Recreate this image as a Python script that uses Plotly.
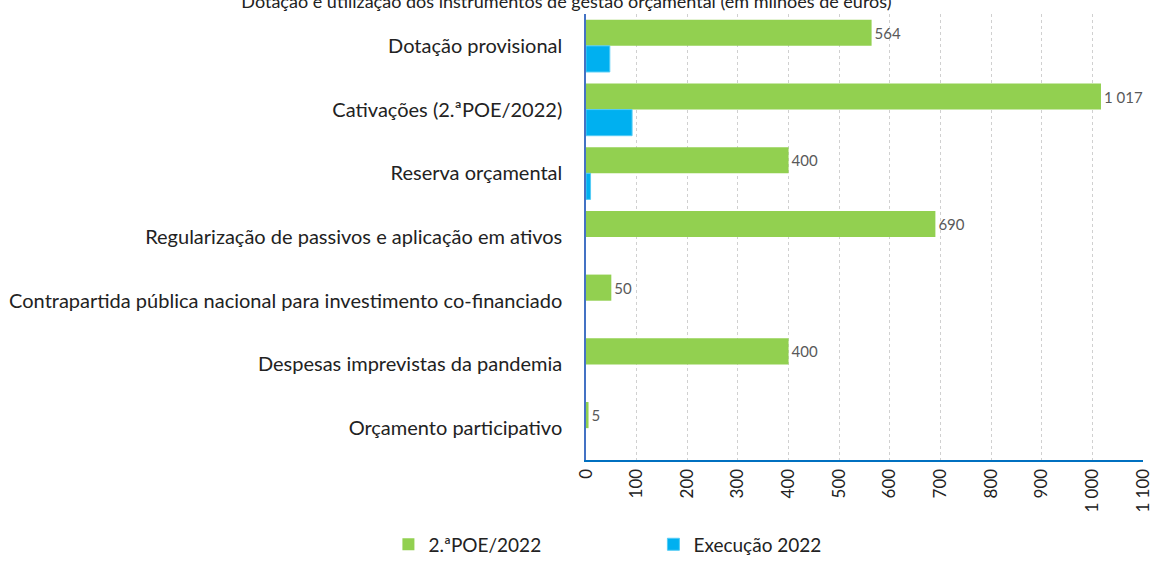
import plotly.graph_objects as go

# categorias (de cima para baixo)
categorias = [
    "Dotação provisional",
    "Cativações (2.ªPOE/2022)",
    "Reserva orçamental",
    "Regularização de passivos e aplicação em ativos",
    "Contrapartida pública nacional para investimento co-financiado",
    "Despesas imprevistas da pandemia",
    "Orçamento participativo",
]
poe_2022 = [564, 1017, 400, 690, 50, 400, 5]
execucao_2022 = [47, 91, 9, None, None, None, None]
ticks_x = list(range(0, 1101, 100))

titulo = "Dotação e utilização dos instrumentos de gestão orçamental (em milhões de euros)"

verde = "#92D050"
azul = "#00B0F0"

fig = go.Figure()
fig.add_trace(go.Bar(
    y=categorias, x=poe_2022, orientation="h", name="2.ªPOE/2022",
    marker=dict(color=verde, line=dict(color=verde, width=0)),
    text=poe_2022, texttemplate="%{x:,.0f}", textposition="outside",
    textfont=dict(color="#595959", size=15), cliponaxis=False,
))
fig.add_trace(go.Bar(
    y=categorias, x=execucao_2022, orientation="h", name="Execução 2022",
    marker=dict(color=azul, line=dict(color="#55CCF5", width=1)),
))

fig.update_layout(
    width=1156, height=563,
    barmode="group", bargap=0.18, bargroupgap=0,
    separators=", ",
    font=dict(family="Lato, Open Sans, sans-serif", color="#222222"),
    plot_bgcolor="white", paper_bgcolor="white",
    margin=dict(l=586, r=13, t=14, b=103, autoexpand=False),
    title=dict(text=titulo, x=0.49, xanchor="center", y=0.997, yref="container",
               yanchor="middle", font=dict(size=18, color="#222222")),
    showlegend=True,
    legend=dict(orientation="h", xref="container", x=0.336, xanchor="left",
                yref="container", y=0.033, yanchor="middle",
                entrywidth=220, entrywidthmode="pixels", font=dict(size=19),
                traceorder="normal", itemclick=False),
    xaxis=dict(range=[0, 1100], tickvals=ticks_x, tickformat=",d", tickangle=-90,
               tickfont=dict(size=17), showgrid=True, gridcolor="#D0D0D0",
               griddash="dot", gridwidth=1, showline=True, linecolor="#0070C0",
               linewidth=2, zeroline=False, ticks="", automargin=False),
    yaxis=dict(autorange="reversed", tickfont=dict(size=20), showline=True,
               linecolor="#4472C4", linewidth=1.5, ticks="", ticklabelstandoff=18,
               showgrid=False, automargin=False),
)

fig.write_html("out.html", config={"displayModeBar": False},
               post_script="document.body.style.margin='0';")
